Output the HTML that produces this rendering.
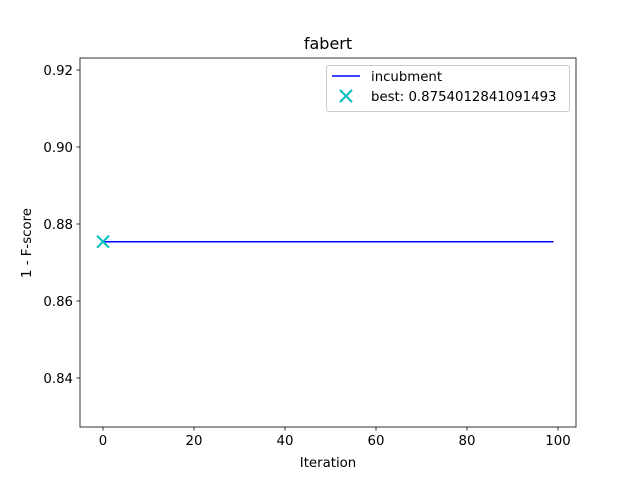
<!DOCTYPE html>
<html><head><meta charset="utf-8"><style>
body{margin:0;background:#fff;}
svg{display:block;font-family:"DejaVu Sans","Liberation Sans",sans-serif;}
</style></head><body>
<svg id="chart" width="640" height="480"></svg>
<script>
const iterations=[0,99];
const incumbentValues=[0.8754012841091493,0.8754012841091493];
const bestPoint=[0,0.8754012841091493];
const xTicks=[0,20,40,60,80,100];
const yTicks=[0.84,0.86,0.88,0.90,0.92];
const yTickLabels=["0.84","0.86","0.88","0.90","0.92"];
const L=80,R=576,T=58,B=427;
function xs(v){return 103+v*4.55;}
function ys(v){return 378-(v-0.84)/0.08*308;}
const NS="http://www.w3.org/2000/svg";
const svg=document.getElementById('chart');
function mk(t,a,txt){const e=document.createElementNS(NS,t);for(const k in a)e.setAttribute(k,a[k]);if(txt!==undefined)e.textContent=txt;svg.appendChild(e);return e;}
let e;
e=mk('rect',{x:L,y:T,width:R-L,height:B-T,fill:'none',stroke:'#000','stroke-width':0.8});


xTicks.forEach(t=>{const x=xs(t);
 e=mk('line',{x1:x,x2:x,y1:B,y2:B+3.5,stroke:'#000','stroke-width':0.8});
 
 
 e=mk('text',{x:x,y:B+18,'font-size':13.3,'text-anchor':'middle'},String(t));
 
 
});
yTicks.forEach((t,i)=>{const y=ys(t);
 e=mk('line',{x1:L-3.5,x2:L,y1:y,y2:y,stroke:'#000','stroke-width':0.8});
 
 
 e=mk('text',{x:L-7,y:y+5,'font-size':13.3,'text-anchor':'end'},yTickLabels[i]);
 
 
});
e=mk('text',{x:328,y:49,'font-size':16,'text-anchor':'middle'},'fabert');


e=mk('text',{x:328,y:467,'font-size':13.3,'text-anchor':'middle'},'Iteration');


e=mk('text',{x:31,y:243,'font-size':13.3,'text-anchor':'middle',transform:'rotate(-90 31 243)'},'1 - F-score');


e=mk('polyline',{points:iterations.map((v,i)=>xs(v)+','+ys(incumbentValues[i])).join(' '),fill:'none',stroke:'#0000ff','stroke-width':1.5});


const bx=xs(bestPoint[0]),by=ys(bestPoint[1]);
e=mk('path',{d:`M${bx-6},${by-6}L${bx+6},${by+6}M${bx-6},${by+6}L${bx+6},${by-6}`,stroke:'#00bfbf','stroke-width':2});


e=mk('rect',{x:326.5,y:65.5,width:243,height:46,rx:2,fill:'#fff',stroke:'#ccc','stroke-width':1});


e=mk('line',{x1:332,x2:360,y1:76,y2:76,stroke:'#0000ff','stroke-width':1.5});


e=mk('text',{x:371,y:81,'font-size':13.3},'incubment');


e=mk('path',{d:'M340,90L352,102M340,102L352,90',stroke:'#00bfbf','stroke-width':2});


e=mk('text',{x:371,y:101,'font-size':13.3},'best: 0.8754012841091493');


</script>
</body></html>
